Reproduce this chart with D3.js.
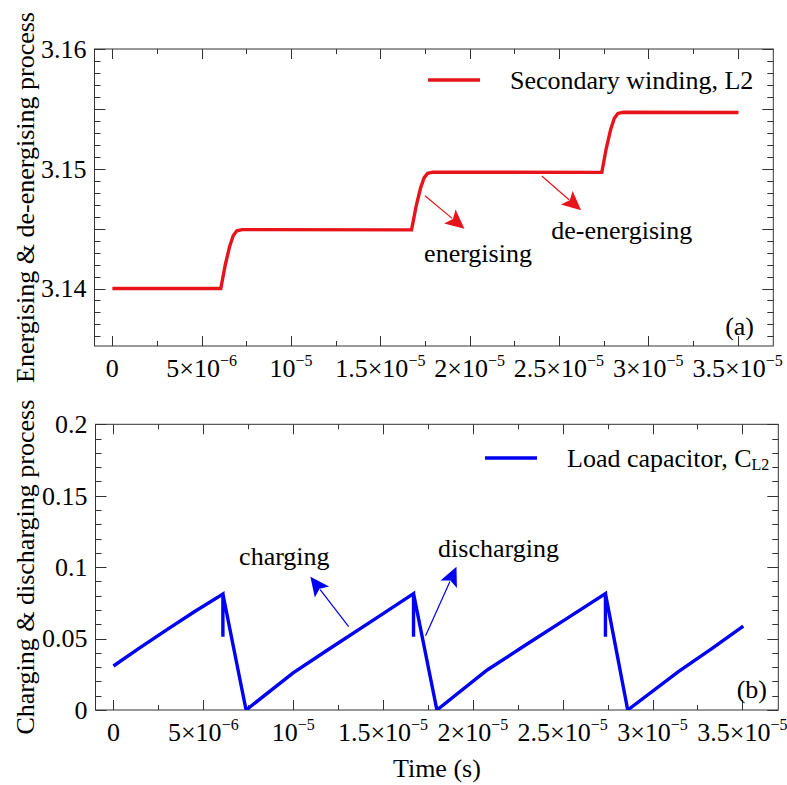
<!DOCTYPE html>
<html><head><meta charset="utf-8">
<script src="https://cdn.jsdelivr.net/npm/d3@7"></script>
<style>
body{margin:0;background:#fff;}
text{font-family:"Liberation Serif","Times New Roman",serif;fill:#000;}
</style></head>
<body><svg id="c" width="787" height="785"></svg>
<script>
// ---------- data ----------
// (a) Secondary winding L2 : time (s) and value
const timeA = [0, 6.07e-6, 6.32e-6, 6.57e-6, 6.77e-6, 6.97e-6, 7.27e-6,
  16.75e-6, 17.00e-6, 17.25e-6, 17.45e-6, 17.65e-6, 17.95e-6,
  27.40e-6, 27.65e-6, 27.90e-6, 28.10e-6, 28.30e-6, 28.60e-6, 35.05e-6];
const valA = [3.1400, 3.1400, 3.14197, 3.14354, 3.14443, 3.14482, 3.14492,
  3.14490, 3.14683, 3.14837, 3.14924, 3.14962, 3.14972,
  3.14970, 3.15171, 3.15331, 3.15422, 3.15462, 3.15472, 3.15470];
// (b) Load capacitor CL2
const timeB = [0, 1.5e-6, 3.0e-6, 4.5e-6, 6.09e-6, 6.09e-6, 6.09e-6, 7.38e-6,
  10.0e-6, 12.0e-6, 14.5e-6, 16.70e-6, 16.70e-6, 16.70e-6, 18.0e-6,
  20.8e-6, 23.0e-6, 25.2e-6, 27.38e-6, 27.38e-6, 27.38e-6, 28.62e-6,
  31.44e-6, 33.3e-6, 35.05e-6];
const valB = [0.0308, 0.0438, 0.0565, 0.0688, 0.0811, 0.0512, 0.0811, 0.0,
  0.0260, 0.0427, 0.0633, 0.0815, 0.0512, 0.0815, 0.0,
  0.0280, 0.0460, 0.0638, 0.0815, 0.0512, 0.0815, 0.0,
  0.0268, 0.0430, 0.0587];

const xTicks = [0, 5e-6, 1e-5, 1.5e-5, 2e-5, 2.5e-5, 3e-5, 3.5e-5];
const xTickLabels = ["0", "5×10^−6", "10^−5", "1.5×10^−5", "2×10^−5", "2.5×10^−5", "3×10^−5", "3.5×10^−5"];
const xMinor = [2.5e-6, 7.5e-6, 12.5e-6, 17.5e-6, 22.5e-6, 27.5e-6, 32.5e-6];

const yTicksA = [3.14, 3.15, 3.16];
const yTickLabelsA = ["3.14", "3.15", "3.16"];
const yMidA = [3.145, 3.155];
const yMinorA = d3.range(3.136, 3.1601, 0.001);

const yTicksB = [0, 0.05, 0.1, 0.15, 0.2];
const yTickLabelsB = ["0", "0.05", "0.1", "0.15", "0.2"];
const yMinorB = d3.range(0.01, 0.2, 0.01);

// annotations [t0, v0, t1, v1] (tail -> tip)
const arrowsA = [[17.50e-6, 3.14774, 19.71e-6, 3.14500], [24.04e-6, 3.14939, 26.24e-6, 3.14654]];
const labelsA = [["energising", 20.47e-6, 3.1422], ["de-energising", 28.52e-6, 3.1441]];
const arrowsB = [[13.09e-6, 0.0583, 10.96e-6, 0.0932], [17.37e-6, 0.0520, 19.09e-6, 0.1002]];
const labelsB = [["charging", 9.51e-6, 0.1014], ["discharging", 21.43e-6, 0.1072]];

// ---------- drawing ----------
const svg = d3.select("#c");
const RED = "#e8141c", BLUE = "#0000f2";
const FS = 26;

function panel(o) {
  const x = d3.scaleLinear().domain([-1e-6, 37e-6]).range([o.l, o.r]);
  const y = d3.scaleLinear().domain(o.yDomain).range([o.b, o.t]);
  const g = svg.append("g");
  const cid = "clip" + o.id;
  svg.append("clipPath").attr("id", cid).append("rect")
    .attr("x", o.l).attr("y", o.t).attr("width", o.r - o.l).attr("height", o.b - o.t);
  const ax = g.append("g").attr("stroke", "#333").attr("stroke-width", 1);
  xTicks.forEach(v => {
    const px = Math.round(x(v)) + 0.5;
    ax.append("line").attr("x1", px).attr("x2", px).attr("y1", o.b).attr("y2", o.b - 10);
    ax.append("line").attr("x1", px).attr("x2", px).attr("y1", o.t).attr("y2", o.t + 10);
  });
  xMinor.forEach(v => {
    const px = Math.round(x(v)) + 0.5;
    ax.append("line").attr("x1", px).attr("x2", px).attr("y1", o.b).attr("y2", o.b - 5);
    ax.append("line").attr("x1", px).attr("x2", px).attr("y1", o.t).attr("y2", o.t + 5);
  });
  const yLong = o.yTicks.concat(o.yMid || []);
  yLong.forEach(v => {
    const py = Math.round(y(v)) + 0.5;
    ax.append("line").attr("x1", o.l).attr("x2", o.l + 11).attr("y1", py).attr("y2", py);
    ax.append("line").attr("x1", o.r).attr("x2", o.r - 11).attr("y1", py).attr("y2", py);
  });
  o.yMinor.forEach(v => {
    if (yLong.some(w => Math.abs(w - v) < 1e-9)) return;
    const py = Math.round(y(v)) + 0.5;
    ax.append("line").attr("x1", o.l).attr("x2", o.l + 6).attr("y1", py).attr("y2", py);
    ax.append("line").attr("x1", o.r).attr("x2", o.r - 6).attr("y1", py).attr("y2", py);
  });
  ax.append("rect").attr("x", o.l).attr("y", o.t).attr("width", o.r - o.l).attr("height", o.b - o.t)
    .attr("fill", "none");

  xTicks.forEach((v, i) => {
    const parts = xTickLabels[i].split("^");
    const t = g.append("text").attr("x", x(v)).attr("y", o.b + 31)
      .attr("text-anchor", "middle").attr("font-size", FS).text(parts[0]);
    if (parts[1]) t.append("tspan").attr("font-size", 16).attr("dy", -11).text(parts[1]);
  });
  o.yTicks.forEach((v, i) => {
    g.append("text").attr("x", o.l - 8).attr("y", y(v)).attr("dy", "0.34em")
      .attr("text-anchor", "end").attr("font-size", FS).text(o.yLabels[i]);
  });
  g.append("text").attr("transform", `translate(34,${(o.t + o.b) / 2}) rotate(-90)`)
    .attr("text-anchor", "middle").attr("font-size", FS).text(o.yTitle);

  const pts = o.times.map((t, i) => [t, o.vals[i]]);
  g.append("path").datum(pts).attr("clip-path", `url(#${cid})`)
    .attr("d", d3.line().x(d => x(d[0])).y(d => y(d[1])))
    .attr("fill", "none").attr("stroke", o.color).attr("stroke-width", 3.4)
    .attr("stroke-linejoin", "miter").attr("stroke-miterlimit", 10);

  o.arrows.forEach(a => {
    const x0 = x(a[0]), y0 = y(a[1]), x1 = x(a[2]), y1 = y(a[3]);
    const dx = x1 - x0, dy = y1 - y0, L = Math.hypot(dx, dy);
    const ux = dx / L, uy = dy / L, hl = 19, hw = 9;
    const bx = x1 - ux * hl, by = y1 - uy * hl;
    g.append("line").attr("x1", x0).attr("y1", y0).attr("x2", bx + ux * 3).attr("y2", by + uy * 3)
      .attr("stroke", o.color).attr("stroke-width", 1.2);
    g.append("path").attr("d",
      `M${x1},${y1}L${bx - uy * hw},${by + ux * hw}L${bx + ux * 4},${by + uy * 4}L${bx + uy * hw},${by - ux * hw}Z`)
      .attr("fill", o.color);
  });
  o.labels.forEach(l => {
    g.append("text").attr("x", x(l[1])).attr("y", y(l[2])).attr("text-anchor", "middle")
      .attr("font-size", FS).text(l[0]);
  });

  g.append("line").attr("x1", o.leg[0]).attr("x2", o.leg[0] + 52).attr("y1", o.leg[1]).attr("y2", o.leg[1])
    .attr("stroke", o.color).attr("stroke-width", 3.4);
  const lt = g.append("text").attr("x", o.leg[0] + 82).attr("y", o.leg[1] + 9).attr("font-size", FS).text(o.legText);
  if (o.legSub) lt.append("tspan").attr("font-size", 16).attr("dy", 3).text(o.legSub);
  g.append("text").attr("x", o.tag[0]).attr("y", o.tag[1]).attr("text-anchor", "end")
    .attr("font-size", FS).text(o.tagText);
}

panel({id: "a", l: 94.5, r: 773.3, t: 49, b: 346, yDomain: [3.1352, 3.16],
  yTicks: yTicksA, yLabels: yTickLabelsA, yMid: yMidA, yMinor: yMinorA,
  yTitle: "Energising & de-energising process", times: timeA, vals: valA, color: RED,
  arrows: arrowsA, labels: labelsA, leg: [428, 80], legText: "Secondary winding, L2",
  tag: [754, 335], tagText: "(a)"});

panel({id: "b", l: 95.5, r: 778.3, t: 424.3, b: 710, yDomain: [0, 0.2],
  yTicks: yTicksB, yLabels: yTickLabelsB, yMid: [], yMinor: yMinorB,
  yTitle: "Charging & discharging process", times: timeB, vals: valB, color: BLUE,
  arrows: arrowsB, labels: labelsB, leg: [485, 458], legText: "Load capacitor, C", legSub: "L2",
  tag: [767, 698], tagText: "(b)"});

svg.append("text").attr("x", 436.9).attr("y", 777).attr("text-anchor", "middle")
  .attr("font-size", FS).text("Time (s)");
</script></body></html>
